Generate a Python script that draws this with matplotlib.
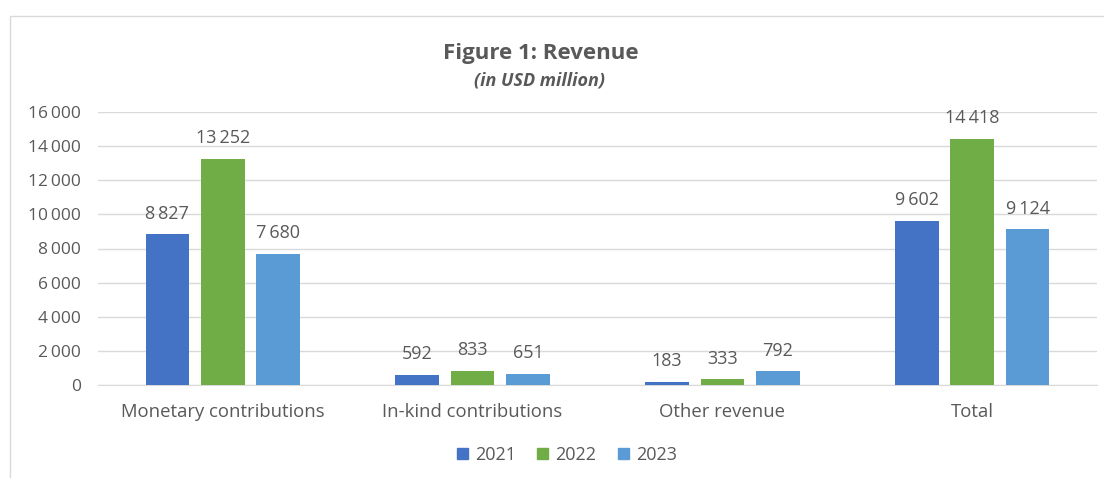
import matplotlib
matplotlib.use("Agg")
import matplotlib.pyplot as plt
import numpy as np
from matplotlib.patches import Rectangle, Patch
from matplotlib.ticker import FuncFormatter

plt.rcParams['font.family'] = ['Open Sans', 'DejaVu Sans']

categories = ["Monetary contributions", "In-kind contributions", "Other revenue", "Total"]
years = ["2021", "2022", "2023"]
v2021 = [8827, 592, 183, 9602]
v2022 = [13252, 833, 333, 14418]
v2023 = [7680, 651, 792, 9124]
series = [v2021, v2022, v2023]
colors = ["#4472C4", "#70AD47", "#5B9BD5"]
yticks = [0, 2000, 4000, 6000, 8000, 10000, 12000, 14000, 16000]

TXT = "#595959"
GRID = "#D9D9D9"

def fmt(v):
    return f"{int(v):,}".replace(",", "\u2009")

W, H = 1104, 478
fig = plt.figure(figsize=(W / 100, H / 100), dpi=100)
ax = fig.add_axes([98 / W, 1 - 385 / H, (1097 - 98) / W, (385 - 112) / H])

x = np.arange(len(categories))
bw = 0.175
step = 0.222
for i, (vals, c, yr) in enumerate(zip(series, colors, years)):
    pos = x + (i - 1) * step
    bars = ax.bar(pos, vals, width=bw, color=c, label=yr, zorder=3)
    for b, v in zip(bars, vals):
        ax.annotate(fmt(v), (b.get_x() + b.get_width() / 2, v), xytext=(0, 8.5),
                    textcoords="offset points", ha="center", va="bottom",
                    fontsize=13, color=TXT)

ax.set_xlim(-0.5, len(categories) - 0.5)
ax.set_ylim(0, 16000)
ax.set_yticks(yticks)
ax.yaxis.set_major_formatter(FuncFormatter(lambda v, p: fmt(v)))
ax.set_xticks(x)
ax.set_xticklabels(categories, fontsize=13.3)
ax.tick_params(axis="both", length=0, labelcolor=TXT)
ax.tick_params(axis="y", labelsize=12.5, pad=12)
ax.tick_params(axis="x", pad=13)
ax.grid(axis="y", color=GRID, linewidth=1, zorder=0)
for s in ["top", "right", "left"]:
    ax.spines[s].set_visible(False)
ax.spines["bottom"].set_color(GRID)

fig.text(541 / W, 1 - 53 / H, "Figure 1: Revenue", ha="center", va="center",
         fontsize=16, fontweight="bold", color=TXT)
fig.text(540 / W, 1 - 81 / H, "(in USD million)", ha="center", va="center",
         fontsize=13, fontweight="bold", fontstyle="italic", color=TXT)

handles = [Patch(color=c, label=y) for c, y in zip(colors, years)]
fig.legend(handles=handles, loc="center", bbox_to_anchor=(567 / W, 1 - 455 / H),
           ncol=3, frameon=False, fontsize=13, labelcolor=TXT,
           handlelength=0.6, handleheight=0.6, handletextpad=0.4, columnspacing=1.2)

fig.patches.append(Rectangle((10 / W, -0.1), 1.2, 1 - 16 / H + 0.1, transform=fig.transFigure,
                             fill=False, edgecolor=GRID, linewidth=1))

fig.savefig("out.png", dpi=100)
